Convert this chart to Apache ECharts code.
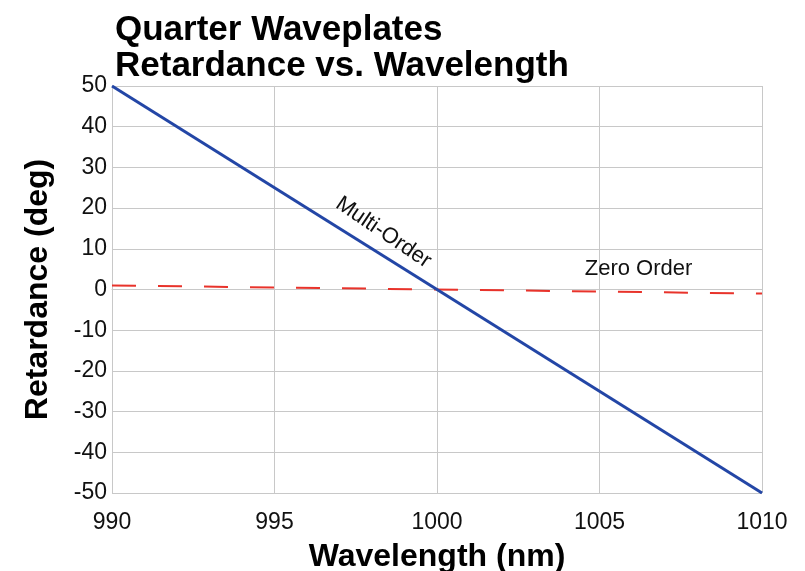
<!DOCTYPE html>
<html>
<head>
<meta charset="utf-8">
<script src="https://cdn.jsdelivr.net/npm/echarts@6/dist/echarts.min.js"></script>
<style>
  html, body { margin: 0; padding: 0; background: #fff; }
  #chart { width: 805px; height: 571px; }
</style>
</head>
<body>
<div id="chart"></div>
<script>
// wavelengths (nm)
const wavelengths = [990, 1010]
// retardance (deg)
const multiOrder = [50, -50]
const zeroOrder = [1, -1]

const font = '"Liberation Sans", Arial, Helvetica, sans-serif'
const chart = echarts.init(document.getElementById('chart'))

const option = {
  animation: false,
  title: {
    text: 'Quarter Waveplates\nRetardance vs. Wavelength',
    left: 110,
    top: 7,
    textStyle: {
      fontFamily: font,
      fontWeight: 'bold',
      fontSize: 35,
      lineHeight: 36,
      color: '#000'
    }
  },
  grid: {
    left: 112, right: 43, top: 86, bottom: 78,
    containLabel: false,
    outerBoundsMode: 'none'
  },
  xAxis: {
    type: 'value',
    min: 990,
    max: 1010,
    interval: 5,
    name: 'Wavelength (nm)',
    nameLocation: 'middle',
    nameGap: 48,
    nameTextStyle: { fontFamily: font, fontWeight: 'bold', fontSize: 32, color: '#000' },
    axisLine: { show: true, lineStyle: { color: '#c8c8c8', width: 1 } },
    axisTick: { show: false },
    axisLabel: { fontFamily: font, fontSize: 23, color: '#111', margin: 18, formatter: v => String(v) },
    splitLine: { show: true, lineStyle: { color: '#c8c8c8', width: 1 } }
  },
  yAxis: {
    type: 'value',
    min: -50,
    max: 50,
    interval: 10,
    name: 'Retardance (deg)',
    nameLocation: 'middle',
    nameGap: 58,
    nameTextStyle: { fontFamily: font, fontWeight: 'bold', fontSize: 32, color: '#000' },
    axisLine: { show: true, lineStyle: { color: '#c8c8c8', width: 1 } },
    axisTick: { show: false },
    axisLabel: { fontFamily: font, fontSize: 23, color: '#111', margin: 5 },
    splitLine: { show: true, lineStyle: { color: '#c8c8c8', width: 1 } }
  },
  series: [
    {
      name: 'Zero Order',
      type: 'line',
      data: wavelengths.map((w, i) => [w, zeroOrder[i]]),
      symbol: 'none',
      lineStyle: { color: '#e8332b', width: 2, type: [24, 22] },
      z: 2,
      markPoint: {
        symbol: 'circle',
        symbolSize: 0,
        data: [{ coord: [1006.2, 5] }],
        label: {
          show: true,
          formatter: 'Zero Order',
          fontFamily: font,
          fontSize: 22,
          color: '#111'
        }
      }
    },
    {
      name: 'Multi-Order',
      type: 'line',
      data: wavelengths.map((w, i) => [w, multiOrder[i]]),
      symbol: 'none',
      lineStyle: { color: '#2346a6', width: 3 },
      z: 3,
      markPoint: {
        symbol: 'circle',
        symbolSize: 0,
        data: [{ coord: [998.35, 14] }],
        label: {
          show: true,
          formatter: 'Multi-Order',
          rotate: -34,
          fontFamily: font,
          fontSize: 22,
          color: '#111'
        }
      }
    }
  ]
}
chart.setOption(option)
</script>
</body>
</html>
